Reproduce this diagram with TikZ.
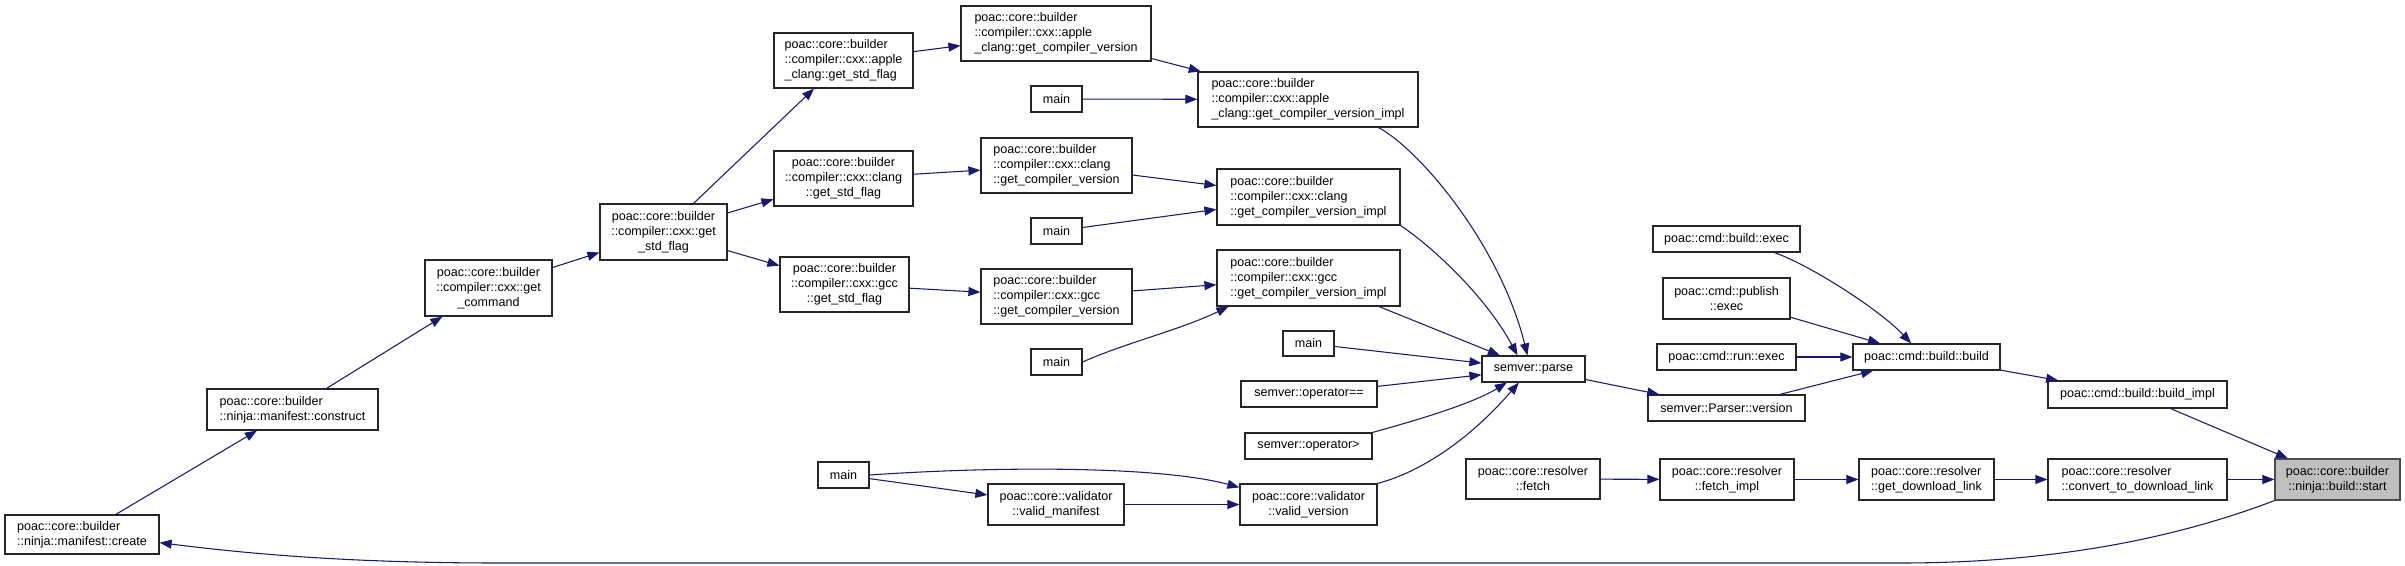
\documentclass[tikz,border=0pt]{standalone}
\usepackage{fontspec}
\setmainfont{Liberation Sans}
\usetikzlibrary{arrows.meta}

\definecolor{edgeblue}{HTML}{191970}
\definecolor{rootgray}{HTML}{BFBFBF}

\tikzset{
	fn/.style={draw=black!85, line width=0.9pt, fill=white, inner sep=0pt, align=left,
		font=\fontsize{9.4}{11.25}\selectfont},
	sz/.style 2 args={minimum width=#1*0.75pt, minimum height=#2*0.75pt},
	call/.style={draw=edgeblue, line width=0.8pt, -{Triangle[length=9pt,width=6.75pt]}},
}

\begin{document}
\begin{tikzpicture}[x=0.75pt, y=-0.75pt]
	\useasboundingbox (0,0) rectangle (2405,565);

	% left chain
	\node[fn, sz={154}{39}] (create) at (82,534.5) {poac::core::builder\\::ninja::manifest::create};
	\node[fn, sz={171}{41}] (construct) at (292.5,409.5) {poac::core::builder\\::ninja::manifest::construct};
	\node[fn, sz={127}{56}, align=center] (getcmd) at (488.5,288) {poac::core::builder\\::compiler::cxx::get\\\_command};
	\node[fn, sz={127}{56}, align=center] (getflag) at (663.5,232) {poac::core::builder\\::compiler::cxx::get\\\_std\_flag};
	\node[fn, sz={139}{55}] (appleflag) at (843.5,60.5) {poac::core::builder\\::compiler::cxx::apple\\\_clang::get\_std\_flag};
	\node[fn, sz={139}{55}, align=center] (clangflag) at (843.5,178.5) {poac::core::builder\\::compiler::cxx::clang\\::get\_std\_flag};
	\node[fn, sz={129}{55}, align=center] (gccflag) at (844.5,284.5) {poac::core::builder\\::compiler::cxx::gcc\\::get\_std\_flag};

	% compiler versions
	\node[fn, sz={190}{55}] (applever) at (1056,33.5) {poac::core::builder\\::compiler::cxx::apple\\\_clang::get\_compiler\_version};
	\node[fn, sz={151}{55}] (clangver) at (1056.5,165.5) {poac::core::builder\\::compiler::cxx::clang\\::get\_compiler\_version};
	\node[fn, sz={151}{55}] (gccver) at (1056.5,296.5) {poac::core::builder\\::compiler::cxx::gcc\\::get\_compiler\_version};
	\node[fn, sz={51}{26}] (mainA) at (1056.5,99) {main};
	\node[fn, sz={51}{26}] (mainB) at (1056.5,231) {main};
	\node[fn, sz={51}{26}] (mainC) at (1056.5,362) {main};
	\node[fn, sz={220}{55}] (appleimpl) at (1308,99.5) {poac::core::builder\\::compiler::cxx::apple\\\_clang::get\_compiler\_version\_impl};
	\node[fn, sz={183}{56}] (clangimpl) at (1308.5,197) {poac::core::builder\\::compiler::cxx::clang\\::get\_compiler\_version\_impl};
	\node[fn, sz={183}{56}] (gccimpl) at (1308.5,278) {poac::core::builder\\::compiler::cxx::gcc\\::get\_compiler\_version\_impl};

	% semver
	\node[fn, sz={51}{25}] (mainD) at (1308.5,343.5) {main};
	\node[fn, sz={136}{26}] (opeq) at (1309,394) {semver::operator==};
	\node[fn, sz={127}{26}] (opgt) at (1308.5,446) {semver::operator>};
	\node[fn, sz={103}{26}] (parse) at (1533.5,369) {semver::parse};
	\node[fn, sz={51}{26}] (mainE) at (843.5,475) {main};
	\node[fn, sz={136}{41}, align=center] (validman) at (1056,504.5) {poac::core::validator\\::valid\_manifest};
	\node[fn, sz={137}{41}, align=center] (validver) at (1308.5,504.5) {poac::core::validator\\::valid\_version};

	% resolver
	\node[fn, sz={134}{40}, align=center] (fetch) at (1533,479) {poac::core::resolver\\::fetch};
	\node[fn, sz={134}{41}, align=center] (fetchimpl) at (1727,479.5) {poac::core::resolver\\::fetch\_impl};
	\node[fn, sz={135}{41}] (dllink) at (1926.5,479.5) {poac::core::resolver\\::get\_download\_link};
	\node[fn, sz={179}{41}] (convert) at (2137.5,479.5) {poac::core::resolver\\::convert\_to\_download\_link};
	\node[fn, sz={125}{41}, align=center, fill=rootgray, draw=black!70] (start) at (2337.5,479.5) {poac::core::builder\\::ninja::build::start};

	% cmd
	\node[fn, sz={147}{26}] (cmdbuild) at (1726.5,239) {poac::cmd::build::exec};
	\node[fn, sz={127}{41}, align=center] (cmdpublish) at (1726.5,298.5) {poac::cmd::publish\\::exec};
	\node[fn, sz={139}{26}] (cmdrun) at (1726.5,357) {poac::cmd::run::exec};
	\node[fn, sz={157}{26}] (parserver) at (1726.5,408) {semver::Parser::version};
	\node[fn, sz={147}{26}] (build) at (1926.5,357) {poac::cmd::build::build};
	\node[fn, sz={179}{27}] (buildimpl) at (2137.5,394.5) {poac::cmd::build::build\_impl};

	% calls
	\draw[call] (start.south west) .. controls (2150,548) and (2020,563) .. (1900,563)
		-- (500,563) .. controls (350,563) and (250,554) .. (create.-6);
	\draw[call] (create) -- (construct);
	\draw[call] (construct) -- (getcmd);
	\draw[call] (getcmd) -- (getflag);
	\draw[call] (getflag) -- (appleflag);
	\draw[call] (getflag) -- (clangflag);
	\draw[call] (getflag) -- (gccflag);
	\draw[call] (appleflag) -- (applever);
	\draw[call] (clangflag) -- (clangver);
	\draw[call] (gccflag) -- (gccver);
	\draw[call] (applever) -- (appleimpl);
	\draw[call] (mainA) -- (appleimpl);
	\draw[call] (clangver) -- (clangimpl);
	\draw[call] (mainB) -- (clangimpl);
	\draw[call] (gccver) -- (gccimpl);
	\draw[call] (mainC.east) .. controls (1125,343) and (1180,330) .. ([xshift=9pt]gccimpl.south west);
	\draw[call] ([xshift=-30pt]appleimpl.south east) .. controls (1420,150) and (1500,245) .. ([xshift=-4.5pt]parse.north);
	\draw[call] (clangimpl.south east) .. controls (1430,245) and (1485,295) .. ([xshift=-12pt]parse.north);
	\draw[call] (gccimpl) -- (parse);
	\draw[call] (mainD) -- (parse);
	\draw[call] (opeq) -- (parse);
	\draw[call] (opgt.north east) .. controls (1410,422) and (1470,405) .. ([xshift=-20pt]parse.south);
	\draw[call] (validver.north east) .. controls (1410,475) and (1460,450) .. ([xshift=-11pt]parse.south);
	\draw[call] (mainE) -- (validman);
	\draw[call] (mainE.east) .. controls (1000,466) and (1160,466) .. ([yshift=-3pt]validver.north west);
	\draw[call] (validman) -- (validver);
	\draw[call] (parse) -- (parserver);
	\draw[call] ([xshift=36pt]cmdbuild.south) .. controls (1810,265) and (1880,310) .. ([xshift=-11.5pt]build.north);
	\draw[call] (cmdpublish) -- (build);
	\draw[call] (cmdrun) -- (build);
	\draw[call] (parserver) -- (build);
	\draw[call] (build) -- (buildimpl);
	\draw[call] (buildimpl) -- (start);
	\draw[call] (fetch) -- (fetchimpl);
	\draw[call] (fetchimpl) -- (dllink);
	\draw[call] (dllink) -- (convert);
	\draw[call] (convert) -- (start);
\end{tikzpicture}
\end{document}
